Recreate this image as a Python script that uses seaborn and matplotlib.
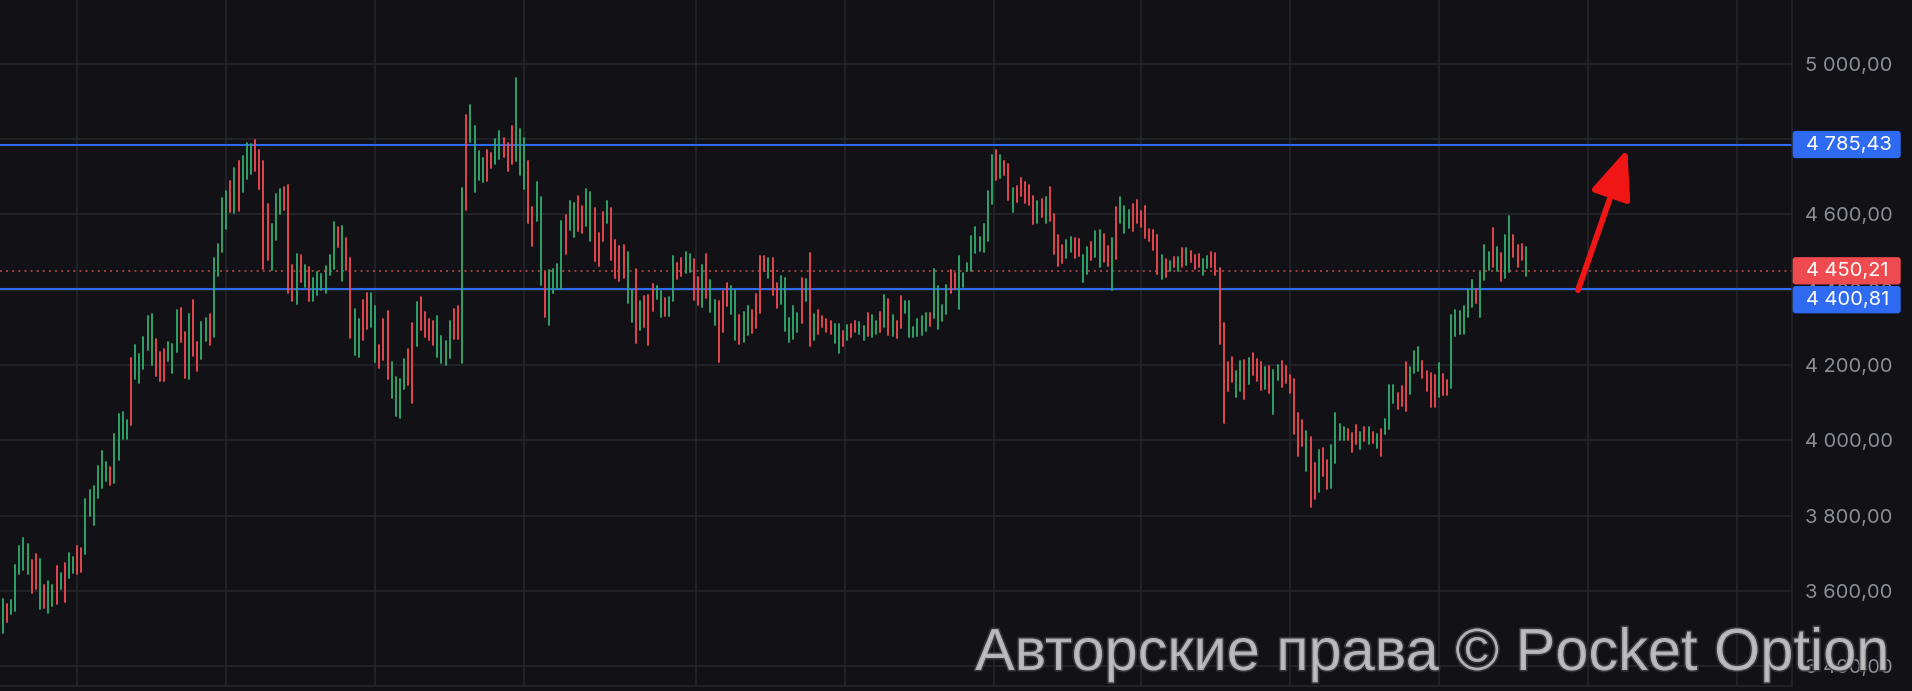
import numpy as np
import pandas as pd
import seaborn as sns
import matplotlib
matplotlib.use("Agg")
import matplotlib.pyplot as plt
import matplotlib.patheffects as pe
from matplotlib.patches import FancyBboxPatch
from matplotlib.transforms import IdentityTransform

# ---- price bars (high / low per bar, g = up, r = down) ----
highs = [
    3579, 3567, 3576, 3669, 3719, 3741, 3725, 3682, 3698, 3686, 3616, 3626, 3616, 3666, 3648, 3674,
    3701, 3690, 3719, 3714, 3844, 3868, 3879, 3932, 3972, 3942, 3929, 4017, 4070, 4075, 4054, 4218,
    4253, 4229, 4274, 4330, 4335, 4269, 4234, 4242, 4261, 4256, 4346, 4351, 4287, 4335,
    4373, 4262, 4314, 4325, 4335, 4484, 4521, 4643, 4662, 4689, 4723, 4742, 4755, 4789, 4787, 4797,
    4771, 4742, 4628, 4574, 4654, 4667, 4673, 4678, 4465, 4495, 4492, 4465, 4460, 4431, 4447, 4442,
    4463, 4492, 4580, 4566, 4569, 4537, 4484, 4349, 4322, 4373, 4391, 4391, 4357, 4253, 4322,
    4343, 4208, 4169, 4164, 4216, 4242, 4312, 4367, 4381, 4341, 4322, 4317, 4330, 4277, 4264, 4317,
    4349, 4357, 4670, 4864, 4890, 4835, 4768, 4750, 4771, 4763, 4800, 4821, 4803, 4789, 4835, 4962,
    4827, 4803, 4742, 4620, 4686, 4646, 4447, 4452, 4455, 4468, 4582, 4598, 4635, 4630,
    4649, 4622, 4667, 4659, 4617, 4551, 4605, 4636, 4617, 4532, 4516, 4519, 4500, 4399, 4455, 4370,
    4383, 4386, 4416, 4410, 4397, 4379, 4381, 4489, 4471, 4484, 4500, 4495, 4482, 4435, 4465, 4495,
    4426, 4373, 4370, 4397, 4418, 4410, 4399, 4334, 4341, 4357, 4346, 4389, 4489, 4489, 4484,
    4485, 4418, 4437, 4432, 4325, 4357, 4339, 4431, 4429, 4497, 4336, 4346, 4330, 4322, 4317, 4309,
    4309, 4290, 4306, 4309, 4317, 4314, 4304, 4339, 4333, 4317, 4342, 4387, 4375, 4333, 4318, 4384,
    4371, 4370, 4301, 4322, 4331, 4339, 4339, 4455, 4411, 4360, 4413, 4452, 4445, 4490,
    4445, 4472, 4543, 4566, 4540, 4574, 4662, 4758, 4771, 4758, 4742, 4734, 4670, 4675, 4697, 4686,
    4678, 4649, 4636, 4641, 4647, 4673, 4602, 4545, 4519, 4533, 4540, 4537, 4535, 4492, 4514, 4527,
    4556, 4558, 4548, 4516, 4537, 4620, 4646, 4622, 4612, 4628, 4638, 4610, 4622, 4561, 4559,
    4545, 4491, 4482, 4477, 4486, 4486, 4510, 4510, 4502, 4493, 4494, 4482, 4489, 4500, 4497, 4457,
    4311, 4207, 4221, 4184, 4211, 4213, 4219, 4232, 4216, 4208, 4195, 4197, 4187, 4200, 4211, 4197,
    4174, 4163, 4073, 4055, 4026, 4008, 3940, 3974, 3980, 3948, 3988, 4073, 4043, 4035,
    4030, 4020, 4041, 4022, 4035, 4035, 4022, 4017, 4030, 4057, 4147, 4147, 4125, 4144, 4208, 4195,
    4237, 4248, 4211, 4184, 4179, 4174, 4205, 4176, 4160, 4333, 4346, 4344, 4357, 4403, 4426, 4402,
    4448, 4519, 4500, 4564, 4513, 4497, 4545, 4596, 4545, 4519, 4521, 4513,
]
lows = [
    3489, 3518, 3539, 3548, 3646, 3657, 3646, 3595, 3606, 3553, 3556, 3542, 3561, 3566, 3606, 3571,
    3636, 3648, 3646, 3651, 3699, 3800, 3776, 3848, 3874, 3893, 3882, 3887, 3949, 4003, 4003, 4041,
    4164, 4153, 4190, 4241, 4201, 4172, 4158, 4158, 4211, 4180, 4235, 4262, 4166, 4164,
    4224, 4185, 4215, 4265, 4254, 4275, 4437, 4501, 4562, 4607, 4604, 4610, 4660, 4695, 4707, 4715,
    4668, 4456, 4480, 4453, 4533, 4602, 4612, 4390, 4370, 4363, 4420, 4408, 4371, 4371, 4387, 4400,
    4392, 4440, 4456, 4514, 4424, 4453, 4272, 4227, 4221, 4266, 4296, 4301, 4209, 4191, 4214,
    4163, 4112, 4065, 4059, 4136, 4147, 4099, 4250, 4293, 4274, 4266, 4253, 4221, 4205, 4200, 4219,
    4269, 4269, 4205, 4612, 4792, 4659, 4691, 4686, 4689, 4723, 4734, 4747, 4752, 4715, 4734, 4742,
    4705, 4667, 4577, 4516, 4582, 4412, 4328, 4306, 4391, 4402, 4402, 4495, 4558, 4540,
    4556, 4551, 4569, 4529, 4477, 4464, 4530, 4578, 4480, 4432, 4424, 4432, 4366, 4315, 4259, 4294,
    4302, 4254, 4344, 4376, 4328, 4331, 4331, 4371, 4429, 4436, 4445, 4448, 4374, 4360, 4355, 4379,
    4342, 4307, 4209, 4289, 4358, 4335, 4267, 4255, 4262, 4281, 4286, 4299, 4339, 4450, 4432,
    4387, 4352, 4363, 4290, 4262, 4269, 4289, 4312, 4371, 4251, 4266, 4283, 4301, 4289, 4283, 4259,
    4233, 4251, 4266, 4274, 4289, 4283, 4266, 4278, 4274, 4283, 4289, 4301, 4280, 4278, 4273, 4299,
    4339, 4274, 4275, 4278, 4280, 4291, 4304, 4326, 4297, 4318, 4336, 4392, 4403, 4350,
    4408, 4451, 4451, 4498, 4504, 4501, 4530, 4628, 4690, 4697, 4705, 4639, 4605, 4634, 4650, 4631,
    4626, 4575, 4578, 4594, 4578, 4583, 4496, 4464, 4472, 4485, 4500, 4485, 4490, 4421, 4443, 4480,
    4488, 4459, 4474, 4464, 4400, 4482, 4578, 4551, 4565, 4557, 4578, 4567, 4538, 4530, 4506,
    4443, 4429, 4435, 4451, 4461, 4451, 4461, 4466, 4474, 4455, 4460, 4440, 4458, 4461, 4440, 4257,
    4047, 4132, 4156, 4116, 4132, 4111, 4150, 4174, 4159, 4135, 4137, 4127, 4071, 4161, 4143, 4153,
    4127, 4018, 3959, 3986, 3920, 3822, 3845, 3864, 3906, 3870, 3873, 3941, 4002, 4002,
    4001, 3970, 3991, 3978, 3999, 3991, 3994, 3981, 3959, 4018, 4031, 4100, 4084, 4092, 4079, 4124,
    4179, 4184, 4166, 4132, 4089, 4089, 4116, 4121, 4121, 4140, 4278, 4283, 4283, 4328, 4355, 4366,
    4328, 4425, 4452, 4459, 4451, 4424, 4432, 4448, 4488, 4461, 4478, 4437,
]
dirs = (
    "grgggggrrgrggrgrggrrggggggrggggrgggggrrrgggrrg"
    "rrggrggggrgrgggrrrrgggrrrgrgrggggggrgrrggrrgg"
    "rrrggggrrgrrrrggggrrgrggggrrggrrrgggrrggrgggg"
    "rggrrggrrrgrrrrggrgrrrggrggrrggrrgrggrrrggrggrr"
    "rrgrrgggggrgrgrrrrggrgrrggrggrgrgrrggggggrggggrr"
    "gggggggggrgrrgrrrrrgrgrrrrggrrggrggrrgrgggrrrrr"
    "rrgrgrgrgrrrggrrrrrrggrgrrrgrggrrrrrrgrrgrrggggr"
    "rrgrgrgrgggrrrgggrrrrgrrggggggrgggrgrggrrrgr"
)

# ---- reference levels ----
resistance = 4785.43
support = 4400.81
last_price = 4450.21
price_ticks = [3400, 3600, 3800, 4000, 4200, 4400, 4600, 4800, 5000]
time_grid = [18, 54, 90, 126, 167.5, 203.5, 239.5, 275, 311, 347, 383, 419]
arrow_from = (380.6, 4399)
arrow_to = (392.5, 4774)
watermark = "Авторские права © Pocket Option"

# ---- colours ----
BG = "#111116"
GRID = "#27282e"
UP = "#2fa66b"
DOWN = "#e9484e"
BLUE = "#2f6bf2"
PRICE_RED = "#ef4a4f"
TICK = "#8c8e97"

W, H = 1912, 691
n = min(len(highs), len(lows), len(dirs))
highs, lows, dirs = highs[:n], lows[:n], dirs[:n]

sns.set_theme(style="dark", rc={"axes.facecolor": BG, "figure.facecolor": BG,
                                "grid.color": GRID, "savefig.facecolor": BG})
plt.rcParams["font.family"] = ["Inter", "DejaVu Sans"]

fig = plt.figure(figsize=(W / 100, H / 100), dpi=100, facecolor=BG)
ax = fig.add_axes([0, 5 / H, 1792 / W, 686 / H])
ax.set_facecolor(BG)

bars = pd.DataFrame({
    "bar": np.repeat(np.arange(n), 2),
    "price": np.column_stack([lows, highs]).ravel(),
    "side": np.repeat(list(dirs), 2),
})
sns.lineplot(data=bars, x="bar", y="price", units="bar", estimator=None,
             hue="side", palette={"g": UP, "r": DOWN}, linewidth=1.35,
             legend=False, sort=False, ax=ax, zorder=3)

ax.set_xlim(-0.652, 432.3)
ax.set_ylim(3348.0, 5169.1)
ax.set_xlabel("")
ax.set_ylabel("")

ax.set_xticks(time_grid)
ax.set_yticks(price_ticks)
ax.set_yticklabels([f"{v:,.2f}".replace(",", " ").replace(".", ",") for v in price_ticks])
ax.yaxis.tick_right()
ax.tick_params(axis="x", length=0, labelbottom=False)
ax.tick_params(axis="y", length=0, pad=9.4, labelsize=14.5, labelcolor=TICK)
ax.grid(True, color=GRID, linewidth=1.1, zorder=0)
for side in ("top", "left"):
    ax.spines[side].set_visible(False)
for side in ("right", "bottom"):
    ax.spines[side].set_visible(True)
    ax.spines[side].set_color(GRID)
    ax.spines[side].set_linewidth(1.1)

# support / resistance and last price
ax.axhline(resistance, color=BLUE, linewidth=1.5, zorder=2)
ax.axhline(support, color=BLUE, linewidth=1.5, zorder=2)
ax.axhline(last_price, color="#c24f4f", linewidth=1.1, linestyle=(0, (1.3, 2.7)), zorder=2)

# projected move
ax.annotate("", xy=arrow_to, xytext=arrow_from,
            arrowprops=dict(arrowstyle="-|>,head_length=1.5,head_width=0.62",
                            mutation_scale=20, color="#f01616", linewidth=4.2,
                            shrinkA=0, shrinkB=0), zorder=6)


# price tags on the axis
def price_tag(value, color, yc=None):
    if yc is None:
        yc = ax.transData.transform((0, value))[1]
    h = 27.3
    box = FancyBboxPatch((1792.7, yc - h / 2), 108, h,
                         boxstyle="round,pad=0,rounding_size=3",
                         transform=IdentityTransform(), facecolor=color,
                         edgecolor="none", zorder=5)
    fig.add_artist(box)
    label = f"{value:,.2f}".replace(",", " ").replace(".", ",")
    fig.text(1806 / W, yc / H, label, color="white", fontsize=14.5,
             va="center", ha="left", zorder=6)
    return yc


price_tag(resistance, BLUE)
red_y = price_tag(last_price, PRICE_RED)
price_tag(support, BLUE, yc=red_y - 27.3 - 1.6)

# copyright watermark
wm = fig.text(975 / W, 21 / H, watermark, fontsize=44, color="#c4c4c6", alpha=0.85,
              family=["Liberation Sans", "DejaVu Sans"], va="baseline", ha="left",
              zorder=20, path_effects=[pe.withStroke(linewidth=2.4, foreground="#3a3a3e")])
renderer = fig.canvas.get_renderer()
width = wm.get_window_extent(renderer).width
wm.set_fontsize(44 * 915 / width)

fig.savefig("out.png", dpi=100, facecolor=BG)
